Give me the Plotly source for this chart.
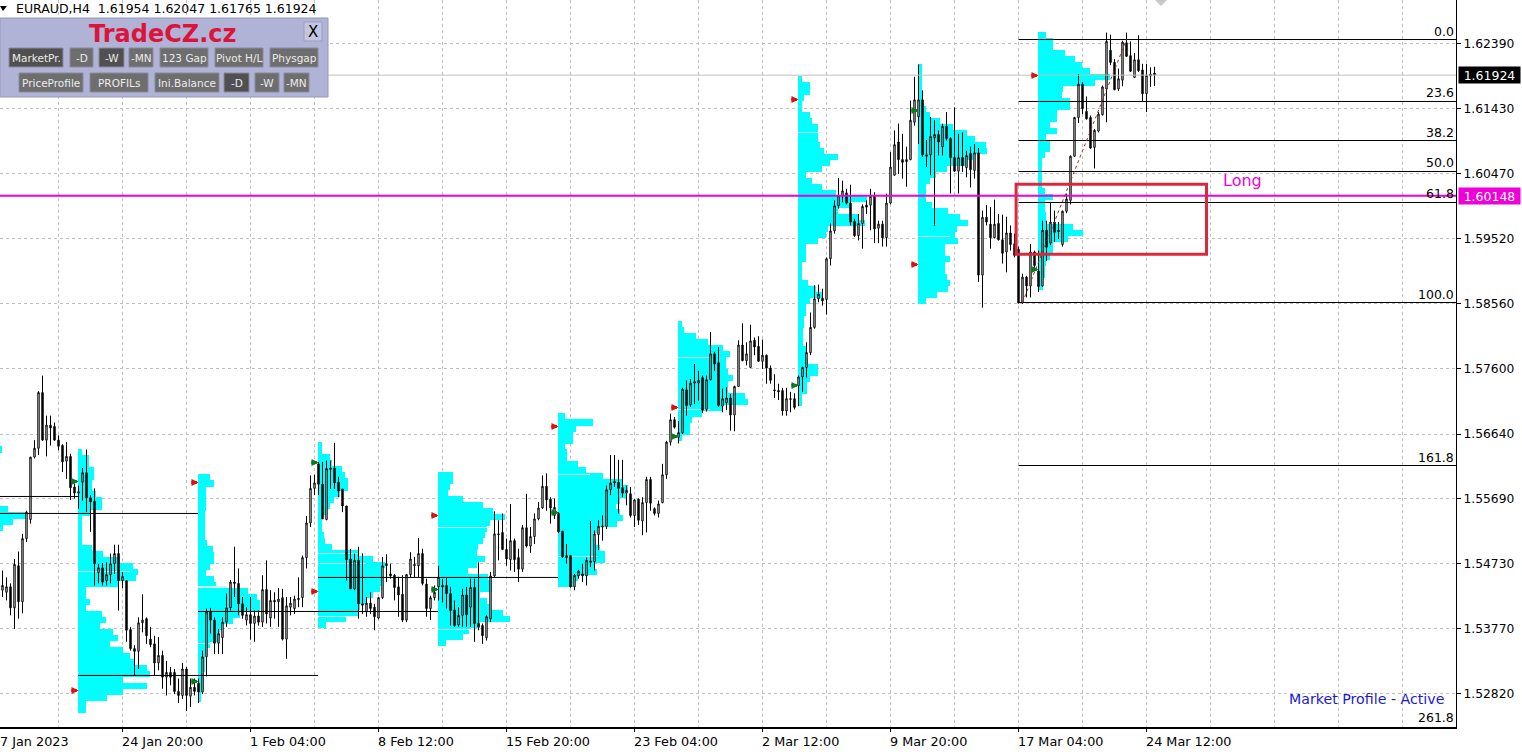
import plotly.graph_objects as go

# EURAUD H4 candles, prices
opens = [
    1.5434,1.5431,1.5439,1.5408,1.5470,1.5417,1.5510,1.5538,1.5630,1.5643,
    1.5725,1.5655,1.5677,1.5675,1.5655,1.5647,1.5624,1.5631,1.5586,1.5577,
    1.5593,1.5607,1.5570,1.5565,1.5460,1.5467,1.5448,1.5457,1.5473,1.5488,
    1.5448,1.5448,1.5376,1.5348,1.5344,1.5386,1.5392,1.5362,1.5355,1.5327,
    1.5338,1.5306,1.5313,1.5313,1.5285,1.5279,1.5318,1.5278,1.5291,1.5297,
    1.5284,1.5336,1.5402,1.5390,1.5356,1.5364,1.5387,1.5408,1.5446,1.5444,
    1.5414,1.5390,1.5398,1.5385,1.5396,1.5387,1.5435,1.5393,1.5419,1.5417,
    1.5423,1.5362,1.5409,1.5407,1.5420,1.5423,1.5482,1.5533,1.5584,1.5620,
    1.5590,1.5538,1.5614,1.5614,1.5593,1.5583,1.5558,1.5480,1.5436,1.5478,
    1.5414,1.5402,1.5415,1.5409,1.5393,1.5423,1.5470,1.5458,1.5456,1.5439,
    1.5428,1.5390,1.5457,1.5470,1.5470,1.5488,1.5443,1.5407,1.5423,1.5439,
    1.5441,1.5441,1.5429,1.5405,1.5383,1.5397,1.5427,1.5409,1.5438,1.5385,
    1.5382,1.5364,1.5392,1.5455,1.5517,1.5519,1.5494,1.5479,1.5507,1.5482,
    1.5465,1.5526,1.5499,1.5513,1.5539,1.5555,1.5587,1.5568,1.5544,1.5547,
    1.5521,1.5482,1.5485,1.5439,1.5455,1.5458,1.5455,1.5477,1.5476,1.5516,
    1.5527,1.5528,1.5582,1.5594,1.5593,1.5585,1.5577,1.5576,1.5544,1.5568,
    1.5536,1.5563,1.5597,1.5554,1.5547,1.5563,1.5604,1.5652,1.5685,1.5659,
    1.5666,1.5729,1.5707,1.5739,1.5739,1.5747,1.5700,1.5744,1.5782,1.5769,
    1.5705,1.5710,1.5717,1.5692,1.5734,1.5795,1.5772,1.5762,1.5802,1.5793,
    1.5771,1.5780,1.5761,1.5729,1.5728,1.5728,1.5698,1.5716,1.5716,1.5735,
    1.5748,1.5762,1.5784,1.5821,1.5863,1.5864,1.5862,1.5922,1.5963,1.6000,
    1.6015,1.6019,1.6004,1.5977,1.5956,1.5974,1.6001,1.6001,1.6014,1.5967,
    1.5973,1.5953,1.6004,1.6045,1.6094,1.6068,1.6065,1.6068,1.6123,1.6131,
    1.6156,1.6075,1.6075,1.6100,1.6105,1.6087,1.6117,1.6099,1.6071,1.6051,
    1.6071,1.6056,1.6077,1.6052,1.6078,1.5898,1.5983,1.5973,1.5953,1.5974,
    1.5950,1.5932,1.5960,1.5944,1.5936,1.5857,1.5895,1.5882,1.5932,1.5904,
    1.5882,1.5964,1.5945,1.5976,1.5964,1.5943,1.5992,1.6008,1.6073,1.6130,
    1.6179,1.6139,1.6130,1.6086,1.6110,1.6134,1.6172,1.6229,1.6211,1.6172,
    1.6185,1.6240,1.6221,1.6189,1.6215,1.6200,1.6165,1.6191,1.61954,
]
highs = [
    1.5463,1.5453,1.5444,1.5480,1.5491,1.5517,1.5551,1.5630,1.5655,1.5727,
    1.5750,1.5691,1.5691,1.5681,1.5662,1.5649,1.5652,1.5635,1.5591,1.5588,
    1.5614,1.5641,1.5574,1.5584,1.5473,1.5474,1.5475,1.5488,1.5501,1.5501,
    1.5461,1.5448,1.5380,1.5353,1.5394,1.5428,1.5394,1.5380,1.5367,1.5365,
    1.5345,1.5330,1.5321,1.5318,1.5304,1.5327,1.5321,1.5304,1.5304,1.5304,
    1.5345,1.5407,1.5408,1.5394,1.5377,1.5394,1.5429,1.5449,1.5498,1.5466,
    1.5424,1.5409,1.5424,1.5404,1.5404,1.5456,1.5478,1.5434,1.5431,1.5437,
    1.5436,1.5424,1.5424,1.5426,1.5453,1.5485,1.5543,1.5603,1.5604,1.5623,
    1.5623,1.5625,1.5625,1.5651,1.5601,1.5583,1.5558,1.5495,1.5488,1.5498,
    1.5488,1.5424,1.5431,1.5414,1.5424,1.5483,1.5487,1.5473,1.5458,1.5454,
    1.5456,1.5458,1.5490,1.5483,1.5511,1.5495,1.5451,1.5426,1.5441,1.5470,
    1.5451,1.5452,1.5439,1.5419,1.5409,1.5436,1.5439,1.5451,1.5451,1.5475,
    1.5385,1.5397,1.5461,1.5550,1.5537,1.5547,1.5510,1.5561,1.5510,1.5495,
    1.5530,1.5576,1.5527,1.5547,1.5564,1.5603,1.5606,1.5571,1.5569,1.5549,
    1.5521,1.5502,1.5485,1.5458,1.5464,1.5473,1.5482,1.5536,1.5522,1.5537,
    1.5544,1.5588,1.5633,1.5633,1.5626,1.5626,1.5588,1.5586,1.5568,1.5569,
    1.5571,1.5601,1.5601,1.5556,1.5566,1.5620,1.5654,1.5694,1.5689,1.5683,
    1.5732,1.5743,1.5745,1.5767,1.5757,1.5750,1.5750,1.5814,1.5785,1.5792,
    1.5731,1.5733,1.5723,1.5735,1.5802,1.5827,1.5799,1.5825,1.5806,1.5808,
    1.5803,1.5781,1.5765,1.5752,1.5738,1.5732,1.5732,1.5726,1.5724,1.5750,
    1.5763,1.5799,1.5843,1.5883,1.5884,1.5878,1.5924,1.5974,1.6008,1.6041,
    1.6037,1.6025,1.6031,1.5981,1.5988,1.6002,1.6008,1.6025,1.6020,1.5978,
    1.5978,1.6018,1.6079,1.6111,1.6121,1.6106,1.6087,1.6155,1.6190,1.6208,
    1.6170,1.6097,1.6131,1.6126,1.6111,1.6121,1.6138,1.6101,1.6145,1.6106,
    1.6108,1.6081,1.6087,1.6091,1.6085,1.5993,1.6001,1.5998,1.6009,1.5988,
    1.5987,1.5984,1.5971,1.5959,1.5940,1.5900,1.5897,1.5944,1.5934,1.5934,
    1.5978,1.5978,1.6005,1.5993,1.5976,1.5993,1.6018,1.6074,1.6131,1.6194,
    1.6182,1.6161,1.6133,1.6113,1.6138,1.6177,1.6255,1.6252,1.6216,1.6202,
    1.6243,1.6255,1.6242,1.6225,1.6251,1.6209,1.6209,1.6204,1.62047,
]
lows = [
    1.5424,1.5419,1.5397,1.5377,1.5392,1.5400,1.5505,1.5532,1.5628,1.5633,
    1.5654,1.5631,1.5647,1.5654,1.5640,1.5608,1.5598,1.5567,1.5569,1.5554,
    1.5566,1.5549,1.5520,1.5441,1.5444,1.5441,1.5441,1.5444,1.5458,1.5404,
    1.5437,1.5358,1.5345,1.5308,1.5318,1.5372,1.5355,1.5350,1.5308,1.5316,
    1.5289,1.5279,1.5294,1.5281,1.5268,1.5274,1.5256,1.5262,1.5279,1.5268,
    1.5281,1.5307,1.5370,1.5340,1.5340,1.5340,1.5380,1.5404,1.5424,1.5397,
    1.5392,1.5382,1.5361,1.5358,1.5382,1.5380,1.5385,1.5380,1.5392,1.5380,
    1.5360,1.5333,1.5397,1.5399,1.5409,1.5409,1.5466,1.5527,1.5574,1.5574,
    1.5539,1.5537,1.5583,1.5583,1.5571,1.5549,1.5448,1.5436,1.5434,1.5392,
    1.5399,1.5395,1.5399,1.5375,1.5391,1.5421,1.5446,1.5451,1.5419,1.5395,
    1.5387,1.5387,1.5453,1.5453,1.5453,1.5441,1.5395,1.5390,1.5419,1.5419,
    1.5416,1.5407,1.5382,1.5380,1.5380,1.5380,1.5380,1.5380,1.5358,1.5375,
    1.5355,1.5360,1.5387,1.5453,1.5478,1.5493,1.5470,1.5463,1.5461,1.5446,
    1.5461,1.5497,1.5489,1.5502,1.5537,1.5554,1.5551,1.5532,1.5539,1.5518,
    1.5482,1.5473,1.5438,1.5434,1.5451,1.5446,1.5441,1.5468,1.5463,1.5493,
    1.5507,1.5524,1.5574,1.5586,1.5547,1.5571,1.5559,1.5541,1.5527,1.5530,
    1.5515,1.5519,1.5551,1.5544,1.5541,1.5562,1.5598,1.5647,1.5672,1.5650,
    1.5664,1.5691,1.5704,1.5708,1.5713,1.5695,1.5697,1.5743,1.5757,1.5704,
    1.5696,1.5699,1.5669,1.5668,1.5734,1.5771,1.5765,1.5762,1.5780,1.5770,
    1.5760,1.5738,1.5738,1.5717,1.5714,1.5691,1.5691,1.5696,1.5700,1.5705,
    1.5726,1.5747,1.5780,1.5819,1.5858,1.5853,1.5840,1.5912,1.5959,1.5996,
    1.6005,1.6002,1.5971,1.5954,1.5949,1.5937,1.5988,1.5964,1.5945,1.5945,
    1.5940,1.5940,1.6002,1.6045,1.6047,1.6040,1.6028,1.6067,1.6118,1.6091,
    1.6072,1.6057,1.6045,1.5970,1.6074,1.6074,1.6096,1.6018,1.6050,1.6018,
    1.6050,1.6042,1.6027,1.6040,1.5888,1.5850,1.5971,1.5937,1.5952,1.5949,
    1.5915,1.5902,1.5934,1.5924,1.5856,1.5856,1.5865,1.5865,1.5905,1.5873,
    1.5881,1.5919,1.5942,1.5947,1.5951,1.5940,1.5989,1.6002,1.6072,1.6122,
    1.6135,1.6127,1.6084,1.6055,1.6108,1.6133,1.6123,1.6207,1.6170,1.6169,
    1.6176,1.6219,1.6197,1.6188,1.6197,1.6153,1.6138,1.6175,1.61765,
]
closes = [
    1.5441,1.5439,1.5408,1.5472,1.5417,1.5510,1.5549,1.5630,1.5643,1.5725,
    1.5655,1.5677,1.5673,1.5655,1.5646,1.5623,1.5631,1.5585,1.5577,1.5579,
    1.5607,1.5570,1.5564,1.5473,1.5467,1.5446,1.5457,1.5473,1.5488,1.5448,
    1.5454,1.5375,1.5348,1.5344,1.5386,1.5390,1.5367,1.5354,1.5327,1.5338,
    1.5306,1.5313,1.5306,1.5285,1.5279,1.5318,1.5279,1.5291,1.5285,1.5284,
    1.5336,1.5402,1.5390,1.5356,1.5370,1.5387,1.5408,1.5446,1.5444,1.5414,
    1.5397,1.5398,1.5385,1.5396,1.5387,1.5435,1.5399,1.5419,1.5417,1.5421,
    1.5362,1.5411,1.5415,1.5421,1.5422,1.5482,1.5533,1.5584,1.5592,1.5590,
    1.5539,1.5613,1.5612,1.5592,1.5580,1.5558,1.5479,1.5436,1.5478,1.5414,
    1.5412,1.5415,1.5407,1.5395,1.5423,1.5470,1.5473,1.5455,1.5438,1.5427,
    1.5390,1.5457,1.5480,1.5472,1.5488,1.5444,1.5407,1.5423,1.5431,1.5453,
    1.5439,1.5429,1.5404,1.5382,1.5397,1.5427,1.5398,1.5438,1.5385,1.5380,
    1.5367,1.5395,1.5455,1.5517,1.5516,1.5494,1.5480,1.5507,1.5479,1.5465,
    1.5526,1.5499,1.5513,1.5539,1.5555,1.5587,1.5567,1.5555,1.5556,1.5520,
    1.5483,1.5485,1.5439,1.5456,1.5462,1.5455,1.5478,1.5475,1.5517,1.5528,
    1.5528,1.5582,1.5592,1.5592,1.5584,1.5577,1.5581,1.5544,1.5567,1.5537,
    1.5563,1.5597,1.5562,1.5547,1.5561,1.5604,1.5652,1.5685,1.5674,1.5666,
    1.5730,1.5706,1.5739,1.5741,1.5743,1.5699,1.5744,1.5782,1.5767,1.5706,
    1.5716,1.5717,1.5692,1.5734,1.5795,1.5772,1.5782,1.5801,1.5792,1.5771,
    1.5780,1.5761,1.5743,1.5728,1.5726,1.5698,1.5716,1.5715,1.5703,1.5748,
    1.5762,1.5784,1.5821,1.5863,1.5870,1.5860,1.5922,1.5963,1.6000,1.6015,
    1.6022,1.6004,1.5976,1.5956,1.5974,1.5999,1.5998,1.6014,1.5966,1.5973,
    1.5953,1.6004,1.6057,1.6090,1.6068,1.6064,1.6068,1.6126,1.6156,1.6156,
    1.6075,1.6073,1.6102,1.6105,1.6094,1.6117,1.6099,1.6071,1.6051,1.6071,
    1.6059,1.6074,1.6053,1.6078,1.5898,1.5983,1.5976,1.5953,1.5973,1.5950,
    1.5930,1.5960,1.5943,1.5927,1.5857,1.5895,1.5882,1.5932,1.5912,1.5881,
    1.5964,1.5939,1.5976,1.5961,1.5962,1.5992,1.6010,1.6073,1.6130,1.6179,
    1.6143,1.6128,1.6085,1.6111,1.6135,1.6175,1.6242,1.6211,1.6171,1.6187,
    1.6241,1.6220,1.6198,1.6215,1.6199,1.6165,1.6192,1.6194,1.61924,
]

# axis labels
price_ticks = [1.62390, 1.61430, 1.60470, 1.59520, 1.58560, 1.57600,
               1.56640, 1.55690, 1.54730, 1.53770, 1.52820]
grid_bars = [14, 46, 78, 110, 142, 174, 206, 238, 270, 302, 318, 334, 350]
tick_bars = [30, 62, 94, 126, 158, 190, 222, 254, 286]
date_bars = [-0.4, 30, 62, 94, 126, 158, 190, 222, 254, 286]
date_labels = ["7 Jan 2023", "24 Jan 20:00", "1 Feb 04:00", "8 Feb 12:00", "15 Feb 20:00",
               "23 Feb 04:00", "2 Mar 12:00", "9 Mar 20:00", "17 Mar 04:00", "24 Mar 12:00"]

# market profile of each week: TPO count per price row, top row first
profile_tops = [1.56412, 1.56368, 1.56000, 1.56471, 1.56030, 1.56898, 1.58253, 1.61860, 1.62037, 1.62508]
profile_starts = [-0.625, 18.875, 48.875, 78.875, 108.875, 138.875, 168.875, 198.875, 228.875, 258.875]
profile_a = [0.5, 0, 0, 0, 0, 0, 0, 0, 0, 0, 2, 6.5, 3.25, 0.75]
profile_b = [1, 2.75, 2.75, 4, 4, 3.5, 3.5, 4.5, 6, 6, 3.25, 1, 1, 1, 1, 1, 3.5, 6.25, 10.5, 13.75, 15, 14.5,
             10, 2, 2, 3, 2, 6, 7, 5.5, 8.75, 10, 8, 11.25, 13, 14, 17.25, 18, 11.25, 17.25, 11.25, 7.25, 2, 2]
profile_c = [3, 4, 2, 2, 2, 2, 1.75, 1.75, 1.75, 1.75, 1.75, 2.25, 3.75, 4, 4, 3, 2, 4, 4.5, 12.5, 14.75,
             15.5, 15.5, 10.5, 8.75, 6.25, 5.5, 5, 3, 2.25, 1.75, 1.75, 1.75, 1.5, 1.5, 1.5, 0.75, 0.75]
profile_d = [1, 1, 3, 3.5, 6, 6.75, 7.5, 7.5, 5.5, 4, 3, 2, 1, 1, 1, 1.5, 1.75, 3.5, 10, 13.75, 16.75, 16,
             16, 16, 15.5, 13.75, 12.25, 10.5, 10, 7, 2]
profile_e = [3.75, 3.75, 3, 2.5, 6.25, 11.25, 13.75, 16.75, 13, 12.25, 11.75, 11.25, 10, 9.75, 11.75, 9.75,
             7.5, 12.5, 13.5, 13.5, 10.5, 12.25, 13, 16.25, 18, 10.5, 7.75, 6.25, 2]
profile_f = [1.75, 8.75, 4.5, 3.75, 3.75, 1.75, 2.25, 2.25, 5, 7, 11.25, 16.25, 17.5, 17.25, 15.5, 14.5,
             15.5, 16.25, 14.75, 9.75, 8.75, 9.5, 10.5, 11.75, 11.75, 9.25, 9.75, 5, 3.75]
profile_g = [1, 1.5, 4.5, 7.5, 11.25, 13, 12, 12, 12.5, 13.75, 12.5, 12.5, 16.75, 17.5, 11.25, 6, 3.5, 3, 3, 1]
profile_h = [1, 3, 3, 1.5, 1, 1, 3, 3.5, 5, 5, 5, 5.5, 6.5, 10, 8, 6, 2, 3.5, 6, 9.5, 17.25, 13, 10, 15, 16.75,
             7.5, 7, 5, 2, 2, 2, 1, 1, 1, 2.5, 4.5, 6, 3, 2, 2, 1.5, 1.5, 1.25, 1.25, 1.25, 2, 2, 2.5, 5, 5, 3,
             2.25, 2.25, 1, 1]
profile_i = [1, 1, 1, 1, 1, 1, 1.5, 2, 3, 5.5, 8.75, 12.25, 14.25, 17, 17.25, 13.75, 12, 7.25, 4.5, 3, 2, 2, 2,
             3.5, 7.5, 10.5, 12.5, 9.75, 9.25, 10, 6.75, 6.75, 8, 6.75, 6.75, 7.25, 8, 7.5, 4.75, 2]
profile_j = [2, 3.75, 3.75, 6.75, 9.25, 11, 13, 18, 14.25, 6.25, 6, 8, 8, 4.75, 4.75, 3, 4.75, 2, 3, 3, 1.75,
             1, 1, 1, 1, 1, 1.75, 3.75, 1.75, 1.75, 2, 2, 8.75, 11.25, 7.5, 3.75, 3.75, 3, 2, 1.75, 1.75, 1.25, 1.25]
profiles = [profile_a, profile_b, profile_c, profile_d, profile_e, profile_f, profile_g, profile_h, profile_i, profile_j]

# pale rows inside the profiles
pale_prices = [1.54616, 1.54384, 1.53555, 1.54881, 1.54735, 1.53954, 1.55264, 1.53762, 1.56044, 1.54837, 1.57767, 1.57001, 1.61080, 1.59548]
pale_starts = [18.875, 48.875, 48.875, 78.875, 78.875, 78.875, 108.875, 108.875, 138.875, 138.875, 168.875, 168.875, 198.875, 228.875]
pale_counts = [13, 7, 5.5, 12, 12, 8, 13, 10.5, 8, 10, 8, 8, 5.5, 8]

# value area lines from one week into the next
poc_prices = [1.55720, 1.55470, 1.53085, 1.54027, 1.54528]
poc_from = [-0.625, -0.625, 18.875, 48.875, 78.875]
poc_to = [18.875, 48.875, 78.875, 108.875, 138.875]

# weekly high / low arrows
arrow_bars = [19, 49, 79, 109, 139, 169, 199, 229, 259]
red_prices = [1.52864, 1.55927, 1.54322, 1.55441, 1.56751, 1.57031, 1.61565, 1.59136, 1.61919]
green_prices = [1.55941, 1.52997, 1.56221, 1.54351, 1.55485, 1.56604, 1.57355, 1.61403, 1.59062]

# fibonacci retracement
fib_labels = ["0.0", "23.6", "38.2", "50.0", "61.8", "100.0", "161.8", "261.8"]
fib_prices = [1.62448, 1.61536, 1.60961, 1.60505, 1.60049, 1.58576, 1.56176, 1.5234]

last_price = 1.61924
level_price = 1.60148

PLOT_W = 1456
PLOT_H = 727
ROW = 0.000883
FONT = "DejaVu Sans"


def px(x):
    return x / PLOT_W


def py(y):
    return 1 - y / PLOT_H


def box(x0, y0, x1, y1, fill, line=None, width=1):
    return dict(type="rect", xref="paper", yref="paper", layer="above",
                x0=px(x0), x1=px(x1), y0=py(y0), y1=py(y1), fillcolor=fill,
                line=dict(color=line or fill, width=width))


def label(x, y, text, size=11.5, color="black", anchor="left", **kw):
    return dict(xref="paper", yref="paper", x=px(x), y=py(y), text=text, showarrow=False,
                xanchor=anchor, yanchor="middle", borderpad=0, align=anchor,
                font=dict(family=FONT, size=size, color=color), **kw)


def add_arrows(fig, prices, color):
    # head and shaft are two marker layers, the head tip sits on the bar
    fig.add_trace(go.Scatter(x=[b - 1.1 for b in arrow_bars], y=prices, mode="markers", showlegend=False,
                             hoverinfo="skip", marker=dict(symbol="line-ew", size=4, line=dict(color=color, width=3))))
    fig.add_trace(go.Scatter(x=arrow_bars, y=prices, mode="markers", showlegend=False, hoverinfo="skip",
                             marker=dict(symbol="arrow-right", size=7, color=color, line=dict(width=0))))


fig = go.Figure()

for start, top, counts in zip(profile_starts, profile_tops, profiles):
    fig.add_trace(go.Bar(x=counts, y0=top, dy=-ROW, base=start, orientation="h", width=ROW * 1.02,
                         marker=dict(color="#00ffff", line=dict(width=0)), showlegend=False, hoverinfo="skip"))
fig.add_trace(go.Bar(x=pale_counts, y=pale_prices, base=pale_starts, orientation="h", width=0.00011,
                     marker=dict(color="#cdf6f6", line=dict(width=0)), showlegend=False, hoverinfo="skip"))

fig.add_trace(go.Candlestick(
    x=list(range(len(opens))), open=opens, high=highs, low=lows, close=closes,
    increasing=dict(fillcolor="white", line=dict(color="black", width=1)),
    decreasing=dict(fillcolor="black", line=dict(color="black", width=1)),
    whiskerwidth=0, showlegend=False,
))

# horizontal lines
for price, x0, x1 in zip(poc_prices, poc_from, poc_to):
    fig.add_trace(go.Scatter(x=[x0, x1], y=[price, price], mode="lines", line=dict(color="black", width=1),
                             showlegend=False, hoverinfo="skip"))
for price in fib_prices[:-1]:
    fig.add_trace(go.Scatter(x=[254, 363.4], y=[price, price], mode="lines", line=dict(color="black", width=1),
                             showlegend=False, hoverinfo="skip"))
fig.add_trace(go.Scatter(x=[-0.625, 363.4], y=[last_price, last_price], mode="lines",
                         line=dict(color="#c0c0c0", width=1), showlegend=False, hoverinfo="skip"))
fig.add_trace(go.Scatter(x=[-0.625, 363.4], y=[level_price, level_price], mode="lines",
                         line=dict(color="#f000d8", width=2), showlegend=False, hoverinfo="skip"))

# fibo trend line
fig.add_trace(go.Scatter(x=[255, 281], y=[fib_prices[5], fib_prices[0]], mode="lines",
                         line=dict(color="#a52a2a", width=1, dash="dot"), showlegend=False, hoverinfo="skip"))

add_arrows(fig, red_prices, "#e01010")
add_arrows(fig, green_prices, "#0b7a1e")

shapes = [
    # red box round the entry zone
    dict(type="rect", xref="x", yref="y", x0=253.4, x1=301, y0=1.59286, y1=1.60317,
         line=dict(color="#dc283c", width=3), layer="above"),
    # header triangle and the grey mark on the top edge
    dict(type="path", xref="paper", yref="paper", layer="above", fillcolor="black", line=dict(width=0),
         path=f"M {px(0)},{py(6)} L {px(7)},{py(6)} L {px(3)},{py(11)} Z"),
    dict(type="path", xref="paper", yref="paper", layer="above", fillcolor="#c8c8c8", line=dict(width=0),
         path=f"M {px(1155)},{py(0)} L {px(1167)},{py(0)} L {px(1161)},{py(6)} Z"),
    # indicator panel
    box(0, 18, 328, 97, "#b0b2d6", "#9496bc"),
    box(304, 22, 322, 41, "#c4c6e0", "#9a9cc0"),
]

annotations = [
    label(15, 8, "EURAUD,H4\u00a0\u00a01.61954 1.62047 1.61765 1.61924", size=12.5),
    label(162.5, 34, "<b>TradeCZ.cz</b>", size=24, color="#dc143c", anchor="center"),
    label(313, 32, "X", size=15, anchor="center"),
]

# panel buttons: text, left, right, row top, dark
buttons = [
    ("MarketPr.", 9, 63, 48, True), ("-D", 70, 93, 48, False), ("-W", 99, 124, 48, True),
    ("-MN", 129, 153, 48, False), ("123 Gap", 160, 208, 48, False), ("Pivot H/L", 215, 263, 48, False),
    ("Physgap", 270, 318, 48, False), ("PriceProfile", 19, 83, 73, False), ("PROFILs", 90, 148, 73, False),
    ("Ini.Balance", 155, 219, 73, False), ("-D", 224, 249, 73, True), ("-W", 255, 279, 73, False),
    ("-MN", 284, 309, 73, False),
]
for text, x0, x1, top, dark in buttons:
    shapes.append(box(x0, top, x1, top + 19, "#505050" if dark else "#6e6e6e", "#8a8aa0"))
    annotations.append(label((x0 + x1) / 2, top + 9.5, text, size=10.5, color="#ececec", anchor="center"))

# date labels start at their tick, so they are annotations and not tick labels
for bar, text in zip(date_bars, date_labels):
    annotations.append(dict(xref="x", yref="paper", x=bar, y=0, xshift=-2, yshift=-6, text=text, showarrow=False,
                            xanchor="left", yanchor="top", borderpad=0,
                            font=dict(family=FONT, size=12.8, color="black")))

# fibo level names sit on top of their lines
for text, price in zip(fib_labels, fib_prices):
    annotations.append(dict(xref="paper", yref="y", x=px(1455), y=price, text=text, showarrow=False,
                            xanchor="right", yanchor="bottom", borderpad=0,
                            font=dict(family=FONT, size=12.5, color="black")))

annotations.append(dict(xref="x", yref="y", x=304.5, y=1.60373, text="Long", showarrow=False, xanchor="left",
                        font=dict(family=FONT, size=16, color="#f000d8")))
annotations.append(label(1445, 699, "Market Profile - Active", size=14.2, color="#1a1ad0", anchor="right"))

# price boxes on the right scale
for price, color in [(last_price, "black"), (level_price, "#f000d8")]:
    annotations.append(dict(xref="paper", yref="y", x=1, xshift=2, y=price, text=f"{price:.5f}", showarrow=False,
                            xanchor="left", yanchor="middle", width=61, height=16, bgcolor=color, borderpad=0,
                            font=dict(family=FONT, size=12.5, color="white")))

grid_style = dict(showgrid=True, gridcolor="#c0c0c0", griddash="3px,3px", gridwidth=1)

fig.update_layout(
    width=1522, height=755, margin=dict(l=0, r=66, t=0, b=28),
    paper_bgcolor="white", plot_bgcolor="white", barmode="overlay", bargap=0, boxgap=0.5,
    showlegend=False, shapes=shapes, annotations=annotations,
    xaxis=dict(range=[-0.625, 363.375], tickmode="array", tickvals=tick_bars, showticklabels=False,
               ticks="outside", ticklen=3, tickcolor="black", showline=True, linecolor="black", linewidth=2,
               zeroline=False, rangeslider=dict(visible=False),
               minor=dict(tickmode="array", tickvals=grid_bars, ticks="", **grid_style), **grid_style),
    yaxis=dict(range=[1.52326, 1.6303], side="right", tickmode="array", tickvals=price_ticks,
               tickformat=".5f", ticks="outside", ticklen=4, tickcolor="black", showline=True,
               linecolor="black", linewidth=1, zeroline=False,
               tickfont=dict(family=FONT, size=12.3, color="black"), **grid_style),
)

fig.write_html("out.html", config={"displayModeBar": False},
               post_script="document.body.style.margin='0';document.body.style.overflow='hidden';")
